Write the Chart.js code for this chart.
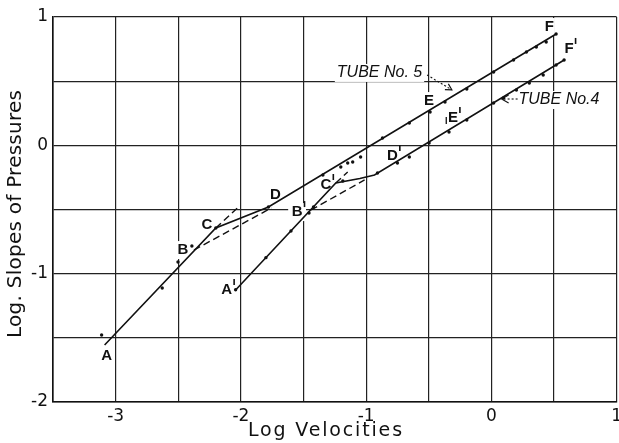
<!DOCTYPE html>
<html>
<head>
<meta charset="utf-8">
<script src="https://cdn.jsdelivr.net/npm/chart.js@4.4.1/dist/chart.umd.min.js"></script>
<style>
  html, body { margin: 0; padding: 0; overflow: hidden; background: #fff; }
  #wrap { width: 626px; height: 443px; position: relative; }
</style>
</head>
<body>
<div id="wrap"><canvas id="chart"></canvas></div>
<script>
// ---- data (log velocity, log slope of pressure) ----
// tube No. 5, solid line A - C - D - F
var tube5X = [-3.088, -2.200, -1.780, 0.517];
var tube5Y = [-1.556, -0.644, -0.480, 0.868];
// tube No. 5, observed points
var tube5DotX = [-3.112, -2.628, -2.502, -2.391, -2.200, -1.780, -1.345, -1.202, -1.147, -1.107, -1.044, -0.869, -0.655, -0.489, -0.370, -0.196, 0.018, 0.177, 0.280, 0.359, 0.438, 0.517];
var tube5DotY = [-1.478, -1.112, -0.909, -0.784, -0.644, -0.480, -0.231, -0.169, -0.138, -0.130, -0.091, 0.057, 0.174, 0.260, 0.338, 0.439, 0.571, 0.665, 0.727, 0.766, 0.805, 0.868];
// tube No. 5, dashed lines
var tube5DashAX = [-2.200, -2.018];
var tube5DashAY = [-0.644, -0.480];
var tube5DashBX = [-2.375, -1.757];
var tube5DashBY = [-0.816, -0.488];

// tube No. 4, solid line A' - C' - bend - F'
var tube4X = [-2.042, -1.242, -1.050, -0.933, 0.581];
var tube4Y = [-1.127, -0.294, -0.258, -0.231, 0.665];
var tube4DotX = [-2.042, -1.800, -1.600, -1.456, -1.420, -1.186, -0.909, -0.750, -0.655, -0.497, -0.338, -0.196, 0.018, 0.097, 0.200, 0.303, 0.414, 0.517, 0.581];
var tube4DotY = [-1.125, -0.875, -0.667, -0.527, -0.480, -0.278, -0.216, -0.138, -0.091, 0.018, 0.104, 0.197, 0.330, 0.369, 0.431, 0.486, 0.548, 0.626, 0.665];
var tube4DashAX = [-1.242, -1.147];
var tube4DashAY = [-0.294, -0.208];
var tube4DashBX = [-1.440, -1.012];
var tube4DashBY = [-0.504, -0.270];

// axis ticks
var xTickLabels = { '-3': '-3', '-2': '-2', '-1': '-1', '0': '0', '1': '1' };
var yTickLabels = { '1': '1', '0': '0', '-1': '-1', '-2': '-2' };

function pts(xs, ys) {
  return xs.map(function (x, i) { return { x: x, y: ys[i] }; });
}

// letters on the curves: [text, x, y, prime]
var letters = [
  ['A', -3.072, -1.642, false],
  ['B', -2.462, -0.816, false],
  ['C', -2.272, -0.621, false],
  ['D', -1.725, -0.387, false],
  ['A', -2.113, -1.127, true],
  ['B', -1.551, -0.520, true],
  ['C', -1.321, -0.309, true],
  ['D', -0.790, -0.083, true],
  ['E', -0.497, 0.345, false],
  ['E', -0.307, 0.213, true],
  ['F', 0.462, 0.922, false],
  ['F', 0.620, 0.751, true]
];

var annotations = {
  id: 'annotations',
  beforeDatasetsDraw: function (chart) {
    var ctx = chart.ctx, sx = chart.scales.x, sy = chart.scales.y;
    ctx.save();
    ctx.fillStyle = '#fff';
    ctx.font = 'bold 15px "Liberation Sans"';
    letters.forEach(function (l) {
      var px = sx.getPixelForValue(l[1]), py = sy.getPixelForValue(l[2]);
      var w = ctx.measureText(l[0]).width + (l[3] ? 5 : 0);
      ctx.fillRect(px - w / 2 - 1, py - 9, w + 2, 18);
    });
    ctx.font = 'italic 16px "Liberation Sans"';
    var t5x = sx.getPixelForValue(-0.893), t5y = sy.getPixelForValue(0.564);
    var w5 = ctx.measureText('TUBE No. 5').width;
    ctx.fillRect(t5x - w5 / 2 - 2, t5y - 9, w5 + 4, 18);
    var t4x = sx.getPixelForValue(0.217), t4y = sy.getPixelForValue(0.353);
    var w4 = ctx.measureText('TUBE No.4').width;
    ctx.fillRect(t4x - 2, t4y - 9, w4 + 4, 18);
    ctx.restore();
  },
  afterDatasetsDraw: function (chart) {
    var ctx = chart.ctx, sx = chart.scales.x, sy = chart.scales.y;
    ctx.save();
    ctx.fillStyle = '#111';
    ctx.strokeStyle = '#111';
    ctx.textAlign = 'center';
    ctx.textBaseline = 'middle';
    ctx.font = 'bold 15px "Liberation Sans"';
    letters.forEach(function (l) {
      var px = sx.getPixelForValue(l[1]), py = sy.getPixelForValue(l[2]);
      ctx.fillText(l[0], px, py);
      if (l[3]) {
        var w = ctx.measureText(l[0]).width;
        ctx.lineWidth = 1.6;
        ctx.beginPath();
        ctx.moveTo(px + w / 2 + 2, py - 11);
        ctx.lineTo(px + w / 2 + 2, py - 5);
        ctx.stroke();
      }
    });

    // TUBE No. 5 with dotted leader
    ctx.font = 'italic 16px "Liberation Sans"';
    ctx.fillText('TUBE No. 5', sx.getPixelForValue(-0.893), sy.getPixelForValue(0.564));
    var ax0 = sx.getPixelForValue(-0.513), ay0 = sy.getPixelForValue(0.548);
    var ax1 = sx.getPixelForValue(-0.315), ay1 = sy.getPixelForValue(0.432);
    ctx.lineWidth = 1.1;
    ctx.setLineDash([2, 2]);
    ctx.beginPath(); ctx.moveTo(ax0, ay0); ctx.lineTo(ax1, ay1); ctx.stroke();
    ctx.setLineDash([]);
    var ang = Math.atan2(ay1 - ay0, ax1 - ax0);
    ctx.beginPath();
    ctx.moveTo(ax1 - 7 * Math.cos(ang - 0.5), ay1 - 7 * Math.sin(ang - 0.5));
    ctx.lineTo(ax1, ay1);
    ctx.lineTo(ax1 - 7 * Math.cos(ang + 0.5), ay1 - 7 * Math.sin(ang + 0.5));
    ctx.stroke();

    // TUBE No.4 with dotted arrow
    var bx0 = sx.getPixelForValue(0.082), by0 = sy.getPixelForValue(0.361);
    var bx1 = sx.getPixelForValue(0.210);
    ctx.setLineDash([2, 2]);
    ctx.beginPath(); ctx.moveTo(bx0 + 2, by0); ctx.lineTo(bx1, by0); ctx.stroke();
    ctx.setLineDash([]);
    ctx.beginPath();
    ctx.moveTo(bx0 + 7, by0 - 4); ctx.lineTo(bx0, by0); ctx.lineTo(bx0 + 7, by0 + 4);
    ctx.stroke();
    ctx.textAlign = 'left';
    ctx.fillText('TUBE No.4', sx.getPixelForValue(0.217), sy.getPixelForValue(0.353));

    // small mark before E'
    var mx = sx.getPixelForValue(-0.36), my = sy.getPixelForValue(0.19);
    ctx.lineWidth = 1.3;
    ctx.beginPath(); ctx.moveTo(mx, my - 4); ctx.lineTo(mx, my + 3); ctx.stroke();
    ctx.restore();
  },
  afterDraw: function (chart) {
    var ctx = chart.ctx;
    ctx.save();
    ctx.fillStyle = '#111';
    ctx.textAlign = 'center';
    ctx.textBaseline = 'middle';
    ctx.font = '19px "DejaVu Sans"';
    fitText(ctx, 'Log Velocities', 325, 431, 154);
    ctx.font = '20px "DejaVu Sans"';
    ctx.translate(16, 214);
    ctx.rotate(-Math.PI / 2);
    fitText(ctx, 'Log. Slopes of Pressures', 0, 0, 248);
    ctx.restore();
  }
};

function fitText(ctx, txt, x, y, target) {
  ctx.letterSpacing = '0px';
  var w = ctx.measureText(txt).width;
  var sp = (target - w) / (txt.length - 1);
  ctx.letterSpacing = sp.toFixed(2) + 'px';
  ctx.fillText(txt, x + sp / 2, y);
  ctx.letterSpacing = '0px';
}

var solid = { borderColor: '#111', borderWidth: 1.6, pointRadius: 0, showLine: true, fill: false };
var dashed = { borderColor: '#111', borderWidth: 1.4, pointRadius: 0, showLine: true, fill: false, borderDash: [7, 4] };
var dots = { backgroundColor: '#111', borderColor: '#111', pointRadius: 1.7, pointBorderWidth: 0, showLine: false };

new Chart(document.getElementById('chart'), {
  type: 'scatter',
  data: {
    datasets: [
      Object.assign({ data: pts(tube5X, tube5Y) }, solid),
      Object.assign({ data: pts(tube5DashAX, tube5DashAY) }, dashed),
      Object.assign({ data: pts(tube5DashBX, tube5DashBY) }, dashed),
      Object.assign({ data: pts(tube5DotX, tube5DotY) }, dots),
      Object.assign({ data: pts(tube4X, tube4Y) }, solid),
      Object.assign({ data: pts(tube4DashAX, tube4DashAY) }, dashed),
      Object.assign({ data: pts(tube4DashBX, tube4DashBY) }, dashed),
      Object.assign({ data: pts(tube4DotX, tube4DotY) }, dots)
    ]
  },
  options: {
    responsive: true,
    maintainAspectRatio: false,
    animation: false,
    layout: { padding: { top: 17, left: 0, right: 0, bottom: 0 } },
    plugins: { legend: { display: false }, tooltip: { enabled: false } },
    scales: {
      x: {
        type: 'linear', min: -3.5, max: 1,
        afterFit: function (s) { s.height = 41; },
        ticks: {
          stepSize: 0.5, autoSkip: false, maxRotation: 0, padding: 4, color: '#111',
          font: { family: 'DejaVu Sans', size: 17 },
          callback: function (v) { return xTickLabels[String(v)] || ''; }
        },
        grid: { color: '#222', lineWidth: 1.2, drawTicks: false },
        border: { color: '#111', width: 1.6 }
      },
      y: {
        type: 'linear', min: -2, max: 1,
        afterFit: function (s) { s.width = 53; },
        ticks: {
          stepSize: 0.5, autoSkip: false, padding: 5, color: '#111',
          font: { family: 'DejaVu Sans', size: 17 },
          callback: function (v) { return yTickLabels[String(v)] || ''; }
        },
        grid: { color: '#222', lineWidth: 1.2, drawTicks: false },
        border: { color: '#111', width: 1.6 }
      }
    }
  },
  plugins: [annotations]
});
</script>
</body>
</html>
